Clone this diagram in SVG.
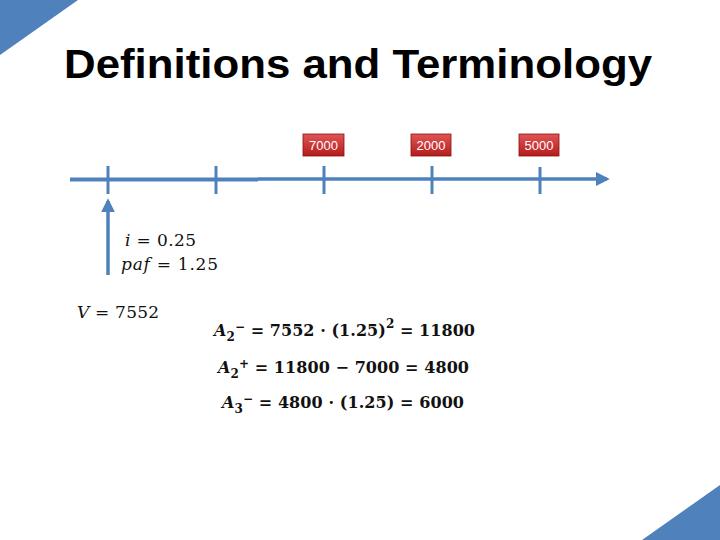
<svg xmlns="http://www.w3.org/2000/svg" width="720" height="540" viewBox="0 0 720 540">
<style>
.title{font-family:"Liberation Sans",Arial,sans-serif;font-weight:bold;font-size:40px;fill:#000}
.m{font-family:"DejaVu Serif","Liberation Serif",serif;font-size:17px;fill:#111}
.mb{font-family:"DejaVu Serif","Liberation Serif",serif;font-size:16px;font-weight:bold;fill:#111}
.v{font-style:italic}
.box{fill:url(#red);stroke:#8a1010;stroke-width:0.8}
.bt{font-family:"Liberation Sans",Arial,sans-serif;font-size:13px;fill:#fff;text-anchor:middle}
.tick{stroke:#4f81bd;stroke-width:3}
</style>
<defs>
<linearGradient id="red" x1="0" y1="0" x2="0" y2="1">
<stop offset="0" stop-color="#e05555"/>
<stop offset="1" stop-color="#b51c1c"/>
</linearGradient>
<marker id="ah" viewBox="0 0 10 10" refX="8" refY="5" markerWidth="4" markerHeight="4" orient="auto">
<path d="M0,0 L10,5 L0,10 z" fill="#4f81bd"/>
</marker>
</defs>
<rect width="720" height="540" fill="#fff"/>
<polygon points="0,0 78,0 0,55" fill="#4f81bd"/>
<polygon points="720,485 720,540 642,540" fill="#4f81bd"/>
<text class="title" x="64" y="78" textLength="588" lengthAdjust="spacingAndGlyphs">Definitions and Terminology</text>
<g id="connectors">
<line x1="70" y1="179.5" x2="258" y2="179.5" stroke="#4f81bd" stroke-width="4"/>
<line x1="258" y1="179" x2="607" y2="179" stroke="#4f81bd" stroke-width="3.5" marker-end="url(#ah)"/>
<line x1="108" y1="275" x2="108" y2="201" stroke="#4f81bd" stroke-width="3.5" marker-end="url(#ah)"/>
</g>
<g id="ticks">
<line class="tick" x1="108" y1="166" x2="108" y2="194"/>
<line class="tick" x1="216" y1="166" x2="216" y2="194"/>
<line class="tick" x1="324" y1="166" x2="324" y2="194"/>
<line class="tick" x1="432" y1="166" x2="432" y2="194"/>
<line class="tick" x1="540" y1="167" x2="540" y2="194"/>
</g>
<g id="box7000"><rect class="box" x="303" y="134" width="41" height="22"/><text class="bt" x="323.5" y="150">7000</text></g>
<g id="box2000"><rect class="box" x="411" y="134" width="40" height="22"/><text class="bt" x="431" y="150">2000</text></g>
<g id="box5000"><rect class="box" x="519" y="134" width="40" height="22"/><text class="bt" x="539" y="150">5000</text></g>
<g id="labels">
<text class="m" x="125" y="246" textLength="71" lengthAdjust="spacing"><tspan class="v">i</tspan> = 0.25</text>
<text class="m" x="121" y="270" textLength="97" lengthAdjust="spacing"><tspan class="v">paf</tspan> = 1.25</text>
<text class="m" x="77" y="318" textLength="82" lengthAdjust="spacing"><tspan class="v">V</tspan> = 7552</text>
<text class="mb" x="214" y="336" textLength="261" lengthAdjust="spacing"><tspan class="v">A</tspan><tspan font-size="12" dy="5">2</tspan><tspan font-size="12" dy="-10">−</tspan><tspan dy="5"> = 7552 · (1.25)</tspan><tspan font-size="12" dy="-8">2</tspan><tspan dy="8"> = 11800</tspan></text>
<text class="mb" x="218" y="373" textLength="251" lengthAdjust="spacing"><tspan class="v">A</tspan><tspan font-size="12" dy="5">2</tspan><tspan font-size="12" dy="-10">+</tspan><tspan dy="5"> = 11800 − 7000 = 4800</tspan></text>
<text class="mb" x="222" y="408" textLength="242" lengthAdjust="spacing"><tspan class="v">A</tspan><tspan font-size="12" dy="5">3</tspan><tspan font-size="12" dy="-10">−</tspan><tspan dy="5"> = 4800 · (1.25) = 6000</tspan></text>
</g>
</svg>
